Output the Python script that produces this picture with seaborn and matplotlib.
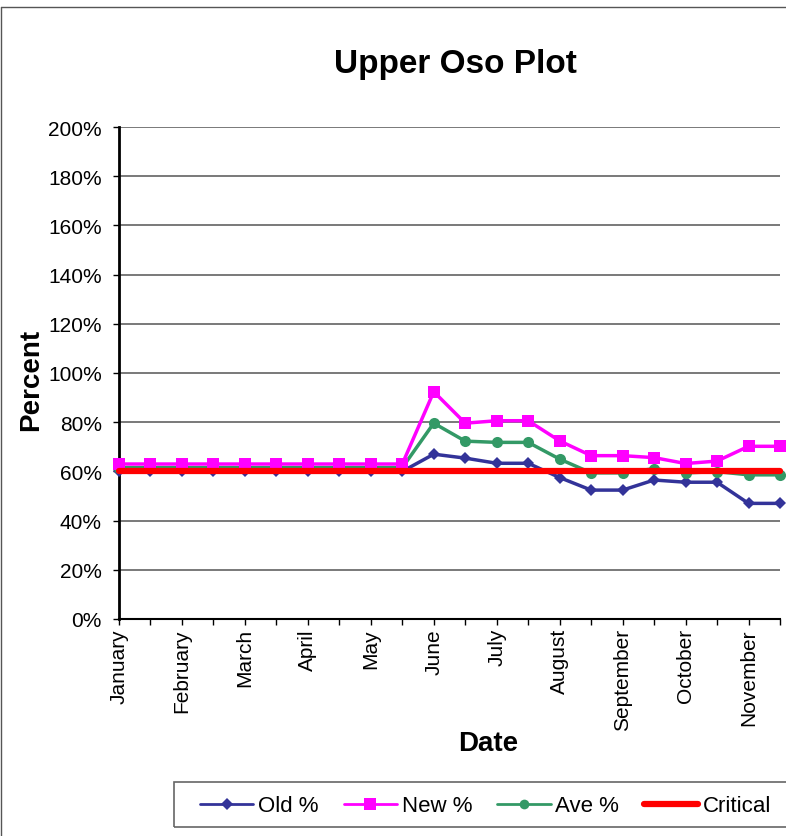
import numpy as np
import pandas as pd
import matplotlib
matplotlib.use("Agg")
import matplotlib.pyplot as plt
from matplotlib.lines import Line2D
from matplotlib.patches import Rectangle
import seaborn as sns

# ---------------------------------
# Data
# ---------------------------------
months = ["January", "February", "March", "April", "May", "June",
          "July", "August", "September", "October", "November"]
old_pct = [60, 60, 60, 60, 60, 60, 60, 60, 60, 60,
           67, 65.4, 63.3, 63.3, 57.5, 52.4, 52.4, 56.5, 55.6, 55.6, 47, 47]
new_pct = [63, 63, 63, 63, 63, 63, 63, 63, 63, 63,
           92.4, 79.6, 80.6, 80.6, 72.4, 66.4, 66.4, 65.6, 63.2, 64.2, 70.2, 70.2]
ave_pct = [61.5, 61.5, 61.5, 61.5, 61.5, 61.5, 61.5, 61.5, 61.5, 61.5,
           79.6, 72.3, 71.8, 71.8, 65.0, 59.4, 59.4, 61.1, 59.4, 59.9, 58.6, 58.6]
critical = [60] * 22

idx = np.arange(len(old_pct))
df = pd.DataFrame({"idx": idx, "Old %": old_pct, "New %": new_pct,
                   "Ave %": ave_pct, "Critical": critical})

# ---------------------------------
# Style
# ---------------------------------
sns.set_style("white")
plt.rcParams['font.family'] = ['Liberation Sans', 'DejaVu Sans']
plt.rcParams['text.color'] = 'black'
plt.rcParams['axes.labelcolor'] = 'black'
plt.rcParams['xtick.color'] = 'black'
plt.rcParams['ytick.color'] = 'black'

fig = plt.figure(figsize=(7.86, 8.37), dpi=100)
ax = fig.add_axes([119/786, 1 - 620/837, (780 - 119)/786, (620 - 128)/837])

# horizontal gridlines
for v in range(20, 201, 20):
    ax.axhline(v, color="#555555", lw=1.1, zorder=0)

sns.lineplot(data=df, x="idx", y="Old %", ax=ax, color="#333399", lw=2.5,
             marker="D", markersize=6, markeredgewidth=0, label="Old %",
             clip_on=False, zorder=3)
sns.lineplot(data=df, x="idx", y="New %", ax=ax, color="#FF00FF", lw=2.5,
             marker="s", markersize=8, markeredgewidth=0, label="New %",
             clip_on=False, zorder=4)
sns.lineplot(data=df, x="idx", y="Ave %", ax=ax, color="#339966", lw=2.5,
             marker="o", markersize=8, markeredgewidth=0, label="Ave %",
             clip_on=False, zorder=3.5)
sns.lineplot(data=df, x="idx", y="Critical", ax=ax, color="#FF0000", lw=4.5,
             label="Critical", clip_on=False, zorder=5)

ax.set_xlim(0, 21)
ax.set_ylim(0, 200)
ax.set_yticks(range(0, 201, 20))
ax.set_yticklabels([f"{v}%" for v in range(0, 201, 20)], fontsize=15)
ax.set_xticks(idx)
xlabels = []
for i in idx:
    xlabels.append(months[i // 2] if i % 2 == 0 else "")
ax.set_xticklabels(xlabels, rotation=90, fontsize=15, va="top")
ax.tick_params(axis="both", direction="out", length=4.5, width=1,
               bottom=True, left=True)
ax.tick_params(axis="y", pad=8)
ax.tick_params(axis="x", pad=2)

for s in ["top", "right"]:
    ax.spines[s].set_visible(False)
ax.spines["left"].set_color("black")
ax.spines["left"].set_linewidth(2)
ax.spines["bottom"].set_color("black")
ax.spines["bottom"].set_linewidth(1.5)

ax.set_xlabel("Date", fontsize=20, fontweight="bold", va="center")
ax.xaxis.set_label_coords((488 - 119)/661, (620 - 744)/492)
ax.set_ylabel("Percent", fontsize=20, fontweight="bold", va="center")
ax.yaxis.set_label_coords((31 - 119)/661, (620 - 380)/492)
fig.text(455/786, 1 - 64/837, "Upper Oso Plot", fontsize=24, fontweight="bold",
         ha="center", va="center")

ax.get_legend().remove()

# legend frame drawn by hand (its right side is cut off in the reference)
fig.add_artist(Rectangle((174/786, 1 - 828/837), (800 - 174)/786, 45/837,
                         transform=fig.transFigure, fill=False,
                         edgecolor="#666666", lw=1.2))
handles = [
    Line2D([], [], color="#333399", lw=2, marker="D", markersize=6, markeredgewidth=0),
    Line2D([], [], color="#FF00FF", lw=2, marker="s", markersize=8, markeredgewidth=0),
    Line2D([], [], color="#339966", lw=2, marker="o", markersize=7, markeredgewidth=0),
    Line2D([], [], color="#FF0000", lw=4.5),
]
leg = fig.legend(handles, ["Old %", "New %", "Ave %", "Critical"], ncol=4,
                 loc="center left", bbox_to_anchor=(200/786, 1 - 807/837),
                 fontsize=16, frameon=False, borderpad=0, borderaxespad=0,
                 handlelength=2.4, handletextpad=0.22, columnspacing=1.12)

# outer chart border (left and top; the rest is cut off)
fig.add_artist(Line2D([1/786, 1/786], [0, 1 - 8/837], color="#555555", lw=1))
fig.add_artist(Line2D([1/786, 1], [1 - 8/837, 1 - 8/837], color="#555555", lw=1))

fig.savefig("out.png", dpi=100)
